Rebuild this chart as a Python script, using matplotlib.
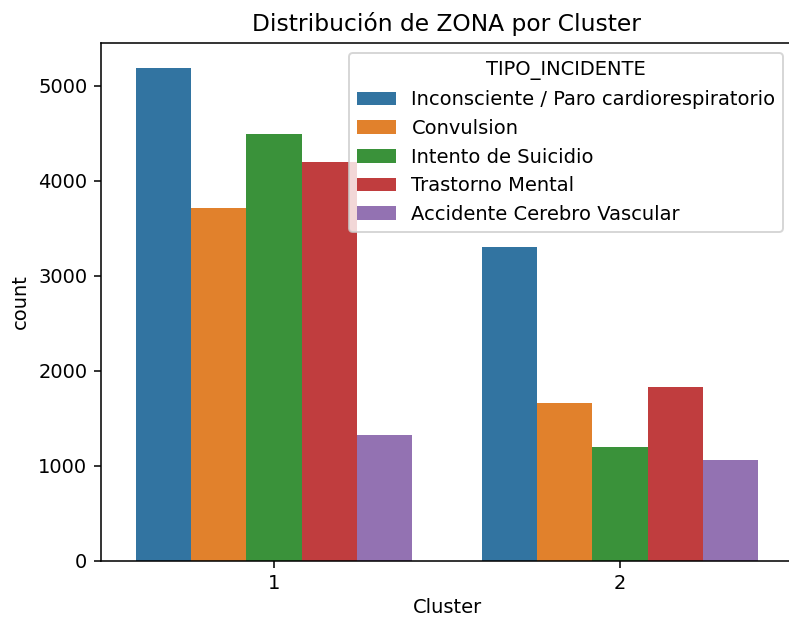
import matplotlib
matplotlib.use("Agg")
import matplotlib.pyplot as plt
import numpy as np

clusters = ["1", "2"]
tipos = ["Inconsciente / Paro cardiorespiratorio", "Convulsion", "Intento de Suicidio",
         "Trastorno Mental", "Accidente Cerebro Vascular"]
counts_cluster1 = [5185, 3712, 4490, 4196, 1322]
counts_cluster2 = [3302, 1664, 1192, 1830, 1062]
colors = ["#3274a1", "#e1812c", "#3a923a", "#c03d3e", "#9372b2"]

DPI = 140
fig = plt.figure(figsize=(789/DPI, 618/DPI), dpi=DPI)
ax = fig.add_axes([101/789, (618-560.7)/618, 692/789, 517.7/618])

x = np.arange(len(clusters))
n = len(tipos)
w = 0.8 / n
for i, (t, c) in enumerate(zip(tipos, colors)):
    vals = [counts_cluster1[i], counts_cluster2[i]]
    ax.bar(x - 0.4 + w*(i+0.5), vals, width=w, color=c, label=t, linewidth=0)

ax.set_xlim(-0.5, 1.5)
ax.set_ylim(0, 5450)
ax.set_xticks(x)
ax.set_xticklabels(clusters)
ax.set_yticks([0, 1000, 2000, 3000, 4000, 5000])
ax.set_xlabel("Cluster", labelpad=2.5)
ax.set_ylabel("count")
ax.set_title("Distribución de ZONA por Cluster")
ax.legend(title="TIPO_INCIDENTE", loc="upper right")
fig.savefig("out.png", dpi=DPI)
